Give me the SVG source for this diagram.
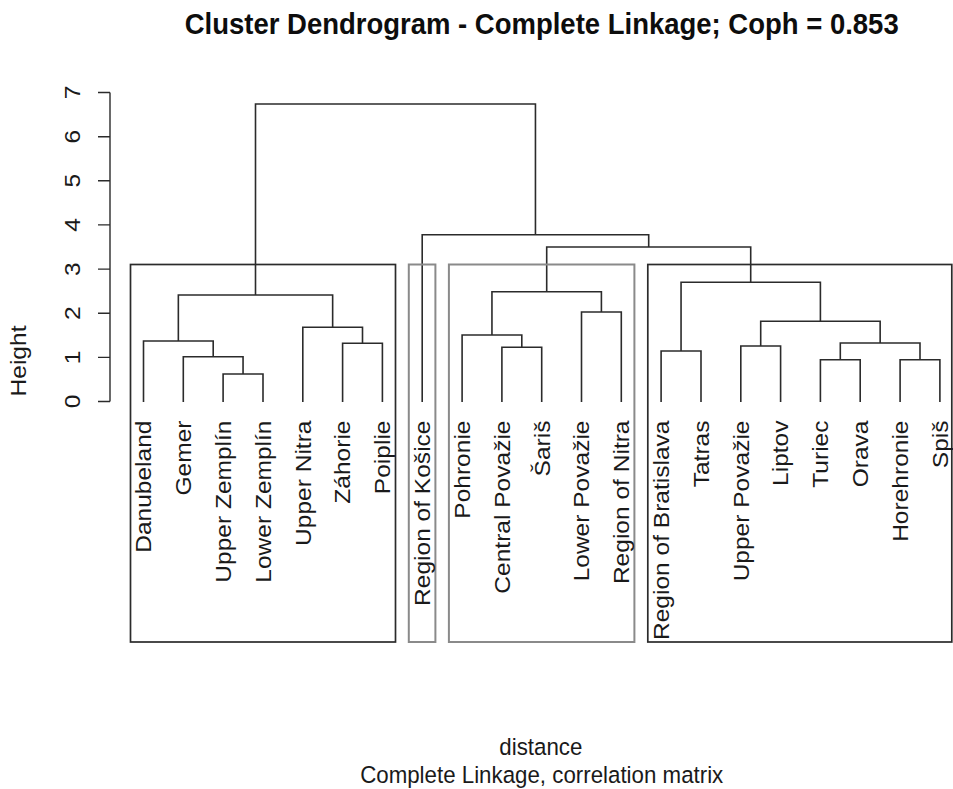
<svg xmlns="http://www.w3.org/2000/svg" width="953" height="789" viewBox="0 0 953 789">
  <style>
    text { font-family: "Liberation Sans", Arial, sans-serif; fill: #1a1a1a; }
    .lbl { font-size: 22.3px; }
    .main { font-size: 27.5px; font-weight: bold; fill: #0d0d0d; }
    .tree path { fill: none; stroke: #2b2b2b; stroke-width: 1.6; }
    .axis path { fill: none; stroke: #2b2b2b; stroke-width: 1.4; }
    .box { fill: none; stroke-width: 1.7; }
    .dark { stroke: #2b2b2b; }
    .grey { stroke: #8a8a8a; stroke-width: 2; }
  </style>
  <rect width="953" height="789" fill="#ffffff"/>

  <!-- title and axis titles -->
  <text class="main" transform="translate(541.7 34) scale(1 1.1)" text-anchor="middle">Cluster Dendrogram - Complete Linkage; Coph = 0.853</text>
  <text class="lbl" transform="translate(540.8 755) scale(1 1.1)" text-anchor="middle">distance</text>
  <text class="lbl" transform="translate(541.7 783) scale(1 1.1)" text-anchor="middle">Complete Linkage, correlation matrix</text>
  <text class="lbl" transform="translate(26 361) scale(1 1.1) rotate(-90)" text-anchor="middle">Height</text>

  <!-- y axis: 0..7, 44.14 px per unit -->
  <g class="axis" id="y-axis">
    <path d="M110 92.5 V401.5 M98 401.5 H110 M98 357.4 H110 M98 313.2 H110 M98 269.1 H110 M98 224.9 H110 M98 180.8 H110 M98 136.7 H110 M98 92.5 H110"/>
    <text class="lbl" transform="translate(80 401.5) scale(1 1.1) rotate(-90)" text-anchor="middle">0</text>
    <text class="lbl" transform="translate(80 357.4) scale(1 1.1) rotate(-90)" text-anchor="middle">1</text>
    <text class="lbl" transform="translate(80 313.2) scale(1 1.1) rotate(-90)" text-anchor="middle">2</text>
    <text class="lbl" transform="translate(80 269.1) scale(1 1.1) rotate(-90)" text-anchor="middle">3</text>
    <text class="lbl" transform="translate(80 224.9) scale(1 1.1) rotate(-90)" text-anchor="middle">4</text>
    <text class="lbl" transform="translate(80 180.8) scale(1 1.1) rotate(-90)" text-anchor="middle">5</text>
    <text class="lbl" transform="translate(80 136.7) scale(1 1.1) rotate(-90)" text-anchor="middle">6</text>
    <text class="lbl" transform="translate(80 92.5) scale(1 1.1) rotate(-90)" text-anchor="middle">7</text>
  </g>

  <!-- dendrogram merges -->
  <g class="tree" id="connectors">
    <path d="M223.1 402 V374 H263 V402"/>
    <path d="M183.3 402 V356.7 H243.05 V374"/>
    <path d="M143.5 402 V341 H213.2 V356.7"/>
    <path d="M342.6 402 V343.3 H382.4 V402"/>
    <path d="M302.8 402 V327.3 H362.5 V343.3"/>
    <path d="M178.35 341 V295 H332.65 V327.3"/>
    <path d="M501.9 402 V347.3 H541.7 V402"/>
    <path d="M462.1 402 V335 H521.8 V347.3"/>
    <path d="M581.5 402 V312 H621.3 V402"/>
    <path d="M491.95 335 V291.7 H601.4 V312"/>
    <path d="M661.1 402 V351 H701 V402"/>
    <path d="M740.8 402 V346 H780.6 V402"/>
    <path d="M820.4 402 V359.7 H860.2 V402"/>
    <path d="M900.1 402 V359.7 H939.9 V402"/>
    <path d="M840.3 359.7 V343 H920 V359.7"/>
    <path d="M760.7 346 V321.3 H880.15 V343"/>
    <path d="M681.05 351 V282.3 H820.4 V321.3"/>
    <path d="M546.7 291.7 V247 H750.7 V282.3"/>
    <path d="M422.2 402 V234.7 H648.7 V247"/>
    <path d="M255.5 295 V104 H535.45 V234.7"/>
  </g>

  <!-- cluster boxes (k = 4) -->
  <g id="clusters">
    <rect id="cluster-1" class="box dark" x="130.5" y="264.5" width="265" height="377.5"/>
    <rect id="cluster-2" class="box grey" x="408.8" y="264.5" width="26.6" height="377.5"/>
    <rect id="cluster-3" class="box grey" x="448.9" y="264.5" width="185.5" height="377.5"/>
    <rect id="cluster-4" class="box dark" x="647.8" y="264.5" width="304" height="377.5"/>
  </g>

  <!-- leaf labels -->
  <g id="leaf-danubeland"><text class="lbl" transform="translate(151.3 420.5) scale(1 1.1) rotate(-90)" text-anchor="end">Danubeland</text></g>
  <g id="leaf-gemer"><text class="lbl" transform="translate(191.1 420.5) scale(1 1.1) rotate(-90)" text-anchor="end">Gemer</text></g>
  <g id="leaf-upper-zemplin"><text class="lbl" transform="translate(230.9 420.5) scale(1 1.1) rotate(-90)" text-anchor="end">Upper Zemplín</text></g>
  <g id="leaf-lower-zemplin"><text class="lbl" transform="translate(270.8 420.5) scale(1 1.1) rotate(-90)" text-anchor="end">Lower Zemplín</text></g>
  <g id="leaf-upper-nitra"><text class="lbl" transform="translate(310.6 420.5) scale(1 1.1) rotate(-90)" text-anchor="end">Upper Nitra</text></g>
  <g id="leaf-zahorie"><text class="lbl" transform="translate(350.4 420.5) scale(1 1.1) rotate(-90)" text-anchor="end">Záhorie</text></g>
  <g id="leaf-poiplie"><text class="lbl" transform="translate(390.2 420.5) scale(1 1.1) rotate(-90)" text-anchor="end">Poiplie</text></g>
  <g id="leaf-kosice"><text class="lbl" transform="translate(430 420.5) scale(1 1.1) rotate(-90)" text-anchor="end">Region of Košice</text></g>
  <g id="leaf-pohronie"><text class="lbl" transform="translate(469.9 420.5) scale(1 1.1) rotate(-90)" text-anchor="end">Pohronie</text></g>
  <g id="leaf-central-povazie"><text class="lbl" transform="translate(509.7 420.5) scale(1 1.1) rotate(-90)" text-anchor="end">Central Považie</text></g>
  <g id="leaf-saris"><text class="lbl" transform="translate(549.5 420.5) scale(1 1.1) rotate(-90)" text-anchor="end">Šariš</text></g>
  <g id="leaf-lower-povazie"><text class="lbl" transform="translate(589.3 420.5) scale(1 1.1) rotate(-90)" text-anchor="end">Lower Považie</text></g>
  <g id="leaf-nitra"><text class="lbl" transform="translate(629.1 420.5) scale(1 1.1) rotate(-90)" text-anchor="end">Region of Nitra</text></g>
  <g id="leaf-bratislava"><text class="lbl" transform="translate(668.9 420.5) scale(1 1.1) rotate(-90)" text-anchor="end">Region of Bratislava</text></g>
  <g id="leaf-tatras"><text class="lbl" transform="translate(708.8 420.5) scale(1 1.1) rotate(-90)" text-anchor="end">Tatras</text></g>
  <g id="leaf-upper-povazie"><text class="lbl" transform="translate(748.6 420.5) scale(1 1.1) rotate(-90)" text-anchor="end">Upper Považie</text></g>
  <g id="leaf-liptov"><text class="lbl" transform="translate(788.4 420.5) scale(1 1.1) rotate(-90)" text-anchor="end">Liptov</text></g>
  <g id="leaf-turiec"><text class="lbl" transform="translate(828.2 420.5) scale(1 1.1) rotate(-90)" text-anchor="end">Turiec</text></g>
  <g id="leaf-orava"><text class="lbl" transform="translate(868 420.5) scale(1 1.1) rotate(-90)" text-anchor="end">Orava</text></g>
  <g id="leaf-horehronie"><text class="lbl" transform="translate(907.9 420.5) scale(1 1.1) rotate(-90)" text-anchor="end">Horehronie</text></g>
  <g id="leaf-spis"><text class="lbl" transform="translate(947.7 420.5) scale(1 1.1) rotate(-90)" text-anchor="end">Spiš</text></g>
</svg>
